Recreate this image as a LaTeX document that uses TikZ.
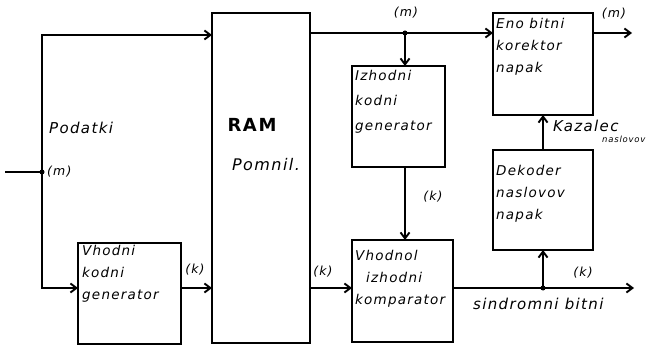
\documentclass[tikz,border=0pt]{standalone}
\usepackage{fontspec}
\setmainfont{DejaVu Sans}
\newfontfamily\hw[LetterSpace=9]{DejaVu Sans}
\usetikzlibrary{arrows.meta}
\begin{document}
\begin{tikzpicture}[x=1pt,y=-1pt,
  blk/.style={draw,line width=2.4pt},
  wire/.style={line width=2pt},
  arr/.style={wire,-{Straight Barb[length=6pt,width=9pt,line width=1.9pt]}},
  lbl/.style={font=\hw\itshape\fontsize{12.5}{14}\selectfont,inner sep=1pt},
  txt/.style={font=\hw\itshape\fontsize{13.5}{22}\selectfont,align=left,anchor=north west,inner sep=0pt}]
\useasboundingbox (0,0) rectangle (658,347);
% boxes
\draw[blk] (212,13) rectangle (310,343);
\draw[blk] (78,243) rectangle (181,344);
\draw[blk] (352,66) rectangle (445,167);
\draw[blk] (352,240) rectangle (453,342);
\draw[blk] (493,13) rectangle (593,115);
\draw[blk] (493,150) rectangle (593,250);
% named anchor coordinates
\coordinate (ramTL) at (212,35);
\coordinate (ramBL) at (212,288);
\coordinate (ramTR) at (310,33);
\coordinate (ramBR) at (310,288);
\coordinate (vhL) at (78,288);
\coordinate (vhR) at (181,288);
\coordinate (izT) at (405,66);
\coordinate (izB) at (405,167);
\coordinate (koT) at (405,240);
\coordinate (koL) at (352,288);
\coordinate (koR) at (453,288);
\coordinate (enL) at (493,33);
\coordinate (enR) at (593,33);
\coordinate (enB) at (543,115);
\coordinate (deT) at (543,150);
\coordinate (deB) at (543,250);
\coordinate (inS) at (5,172);
\coordinate (inJ) at (42,172);
\coordinate (br1) at (405,33);
\coordinate (br2) at (543,288);
\coordinate (outM) at (632,33);
\coordinate (outK) at (634,288);
% text
\node[font=\hw\bfseries\fontsize{18}{20}\selectfont] (ram) at (252,125) {RAM};
\node[font=\hw\itshape\fontsize{16}{18}\selectfont] (pom) at (266,165) {Pomnil.};
\node[txt,font=\hw\itshape\fontsize{13.5}{25}\selectfont] (t1) at (355,70) {Izhodni\\kodni\\generator};
\node[txt] (t2) at (82,245) {Vhodni\\kodni\\generator};
\node[txt] (t3) at (355,250) {Vhodnol\\\ \ izhodni\\komparator};
\node[txt] (t4) at (496,18) {Eno bitni\\korektor\\napak};
\node[txt] (t5) at (496,165) {Dekoder\\naslovov\\napak};
\node[lbl,anchor=west,font=\hw\itshape\fontsize{15}{16}\selectfont] (podatki) at (48,128) {Podatki};
\node[lbl,anchor=west] (m1) at (46,172) {(m)};
\node[lbl] (k1) at (195,270) {(k)};
\node[lbl] (k2) at (323,272) {(k)};
\node[lbl] (m2) at (406,13) {(m)};
\node[lbl] (m3) at (614,14) {(m)};
\node[lbl] (k3) at (433,197) {(k)};
\node[lbl] (k4) at (583,273) {(k)};
\node[lbl,anchor=west,font=\hw\itshape\fontsize{15}{16}\selectfont] (sb) at (472,304) {sindromni bitni};
\node[lbl,anchor=west,font=\hw\itshape\fontsize{15}{16}\selectfont] (kaz) at (552,126) {Kazalec};
\node[lbl,anchor=west,font=\hw\itshape\fontsize{8.5}{9}\selectfont] (nas) at (601,139) {naslovov};
% wires
\draw[wire] (inS) -- (inJ);
\fill (inJ) circle (2.5pt);
\draw[arr] (inJ) |- (ramTL);
\draw[arr] (inJ) |- (vhL);
\draw[arr] (vhR) -- (ramBL);
\draw[arr] (ramBR) -- (koL);
\draw[arr] (ramTR) -- (enL);
\fill (br1) circle (2.5pt);
\draw[arr] (br1) -- (izT);
\draw[arr] (izB) -- (koT);
\draw[arr] (koR) -- (outK);
\fill (br2) circle (2.5pt);
\draw[arr] (br2) -- (deB);
\draw[arr] (deT) -- (enB);
\draw[arr] (enR) -- (outM);
\end{tikzpicture}
\end{document}
